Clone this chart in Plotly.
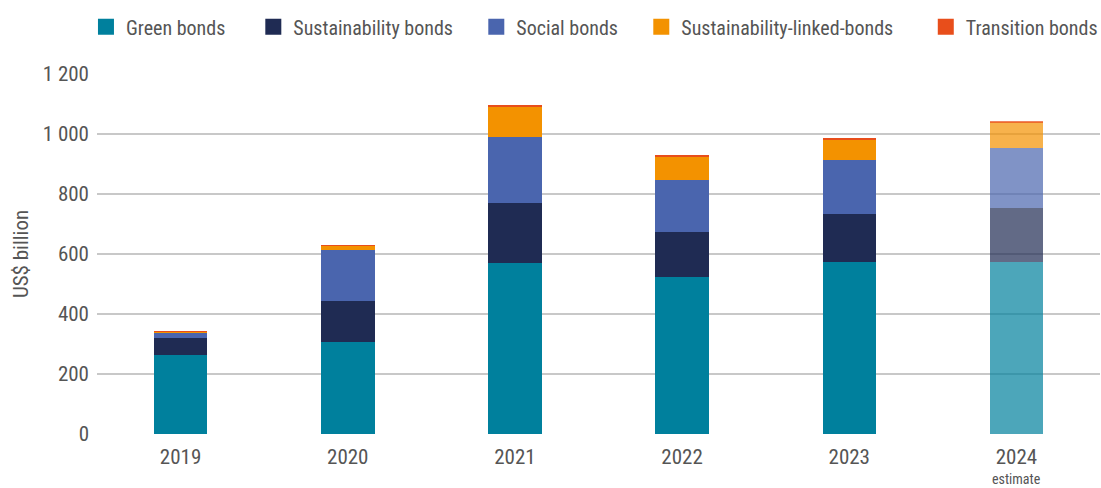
import plotly.graph_objects as go

years = ["2019", "2020", "2021", "2022", "2023", "2024"]
tick_labels = ["2019", "2020", "2021", "2022", "2023", "2024"]
estimate_label = "estimate"

green = [263, 308, 570, 522, 574, 573]
sustainability = [56, 137, 199, 151, 159, 179]
social = [19, 168, 221, 175, 181, 201]
slb = [4, 15, 101, 78, 67, 86]
transition = [1, 2, 3, 4, 3, 2]

series = [
    ("Green bonds", green, "#00809D"),
    ("Sustainability bonds", sustainability, "#1F2B53"),
    ("Social bonds", social, "#4A65AE"),
    ("Sustainability-linked-bonds", slb, "#F39200"),
    ("Transition bonds", transition, "#E84E1B"),
]

opac = [1, 1, 1, 1, 1, 0.7]
FONT = "Roboto Condensed, Liberation Sans Narrow, DejaVu Sans Condensed, sans-serif"
TXT = "#555555"
PADS = ["\u00a0" * 5, "\u00a0" * 4, "\u00a0" * 4, "\u00a0" * 6, ""]

fig = go.Figure()
for name, vals, col in series:
    fig.add_trace(go.Bar(
        x=years, y=vals, name=name, showlegend=False,
        marker=dict(color=col, opacity=opac, line=dict(width=0)),
    ))
for (name, vals, col), pad in zip(series, PADS):
    fig.add_trace(go.Scatter(
        x=[None], y=[None], name=name + pad,
        mode="markers",
        marker=dict(symbol="square", size=16, color=col),
    ))

fig.update_layout(
    width=1101, height=488,
    barmode="stack", bargap=0.68,
    plot_bgcolor="white", paper_bgcolor="white",
    margin=dict(l=97, r=1, t=74, b=54, autoexpand=False),
    font=dict(family=FONT, size=21, color=TXT),
    separators=". ",
    showlegend=True,
    legend=dict(orientation="h", x=-0.011, xanchor="left",
                y=1.077, yanchor="bottom",
                traceorder="normal", font=dict(size=20, color=TXT),
                itemsizing="trace", bgcolor="rgba(0,0,0,0)"),
    xaxis=dict(type="category", categoryorder="array", categoryarray=years,
               tickvals=years, ticktext=tick_labels, showgrid=False,
               showline=False, ticks="", range=[-0.5, 5.5], ticklabelstandoff=8),
    yaxis=dict(range=[0, 1200], tickvals=[0, 200, 400, 600, 800, 1000, 1200],
               tickformat=",d", showgrid=True, gridcolor="#C8C8C8", gridwidth=1.5,
               zeroline=False, showline=False, ticks="", ticklabelstandoff=7,
               title=dict(text="US$ billion", standoff=8, font=dict(size=21, color=TXT))),
    annotations=[dict(x=len(years) - 1, y=0, xref="x", yref="paper", yanchor="top",
                      yshift=-35, text=estimate_label, showarrow=False,
                      font=dict(size=14, color=TXT))],
)

fig.write_html("out.html")
